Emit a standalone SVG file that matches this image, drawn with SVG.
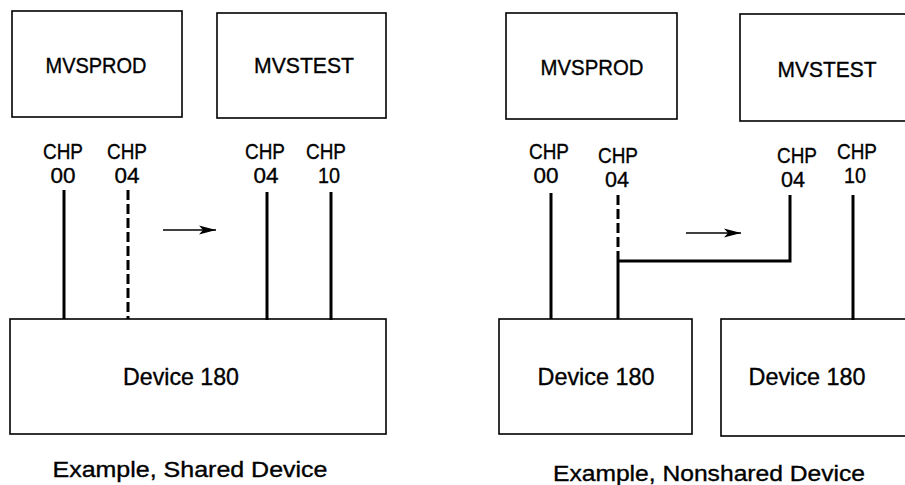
<svg xmlns="http://www.w3.org/2000/svg" width="905" height="485" viewBox="0 0 905 485">
<style>
.box{fill:#fff;stroke:#000;stroke-width:1.6}
.t{font-family:"Liberation Sans",Arial,sans-serif;font-size:22px;fill:#000;stroke:#000;stroke-width:0.35;text-anchor:middle}
.d{font-size:24px}
.ln{stroke:#000;stroke-width:3;fill:none}
.ds{stroke:#000;stroke-width:3;fill:none;stroke-dasharray:10 4}
.ar{stroke:#000;stroke-width:1.6;fill:none}
</style>
<defs>
<marker id="ah" markerWidth="18" markerHeight="12" refX="17" refY="6" orient="auto" markerUnits="userSpaceOnUse">
<path d="M0,1.5 L17,6 L0,10.5 L4,6 Z" fill="#000"/>
</marker>
</defs>
<rect width="905" height="485" fill="#fff"/>

<!-- Left panel -->
<g id="l-mvsprod"><rect class="box" x="12" y="11" width="170" height="106"/><text class="t" x="96" y="73" textLength="101" lengthAdjust="spacingAndGlyphs">MVSPROD</text></g>
<g id="l-mvstest"><rect class="box" x="217" y="13" width="169" height="105"/><text class="t" x="304" y="73" textLength="100" lengthAdjust="spacingAndGlyphs">MVSTEST</text></g>
<g id="l-chp00"><text class="t" x="63" y="159" textLength="40" lengthAdjust="spacingAndGlyphs">CHP</text><text class="t" x="63" y="183" textLength="25" lengthAdjust="spacingAndGlyphs">00</text></g>
<g id="l-chp04a"><text class="t" x="127" y="159" textLength="40" lengthAdjust="spacingAndGlyphs">CHP</text><text class="t" x="127" y="183" textLength="25" lengthAdjust="spacingAndGlyphs">04</text></g>
<g id="l-chp04b"><text class="t" x="265" y="159" textLength="40" lengthAdjust="spacingAndGlyphs">CHP</text><text class="t" x="266" y="183" textLength="25" lengthAdjust="spacingAndGlyphs">04</text></g>
<g id="l-chp10"><text class="t" x="326" y="159" textLength="40" lengthAdjust="spacingAndGlyphs">CHP</text><text class="t" x="329" y="183" textLength="22" lengthAdjust="spacingAndGlyphs">10</text></g>
<g id="l-device"><rect class="box" x="10" y="319" width="376" height="115"/><text class="t d" x="181" y="385" textLength="116" lengthAdjust="spacingAndGlyphs">Device 180</text></g>
<text class="t" x="190" y="477" textLength="275" lengthAdjust="spacingAndGlyphs">Example, Shared Device</text>

<!-- Right panel -->
<g id="r-mvsprod"><rect class="box" x="506" y="13" width="171" height="106"/><text class="t" x="592" y="75" textLength="103" lengthAdjust="spacingAndGlyphs">MVSPROD</text></g>
<g id="r-mvstest"><rect class="box" x="740" y="14" width="175" height="107"/><text class="t" x="827" y="77" textLength="99" lengthAdjust="spacingAndGlyphs">MVSTEST</text></g>
<g id="r-chp00"><text class="t" x="549" y="159" textLength="40" lengthAdjust="spacingAndGlyphs">CHP</text><text class="t" x="546" y="183" textLength="25" lengthAdjust="spacingAndGlyphs">00</text></g>
<g id="r-chp04a"><text class="t" x="618" y="163" textLength="40" lengthAdjust="spacingAndGlyphs">CHP</text><text class="t" x="617" y="187" textLength="24" lengthAdjust="spacingAndGlyphs">04</text></g>
<g id="r-chp04b"><text class="t" x="797" y="163" textLength="40" lengthAdjust="spacingAndGlyphs">CHP</text><text class="t" x="793" y="187" textLength="24" lengthAdjust="spacingAndGlyphs">04</text></g>
<g id="r-chp10"><text class="t" x="857" y="159" textLength="40" lengthAdjust="spacingAndGlyphs">CHP</text><text class="t" x="855" y="183" textLength="22" lengthAdjust="spacingAndGlyphs">10</text></g>
<g id="r-device1"><rect class="box" x="499" y="319" width="193" height="115"/><text class="t d" x="596" y="385" textLength="117" lengthAdjust="spacingAndGlyphs">Device 180</text></g>
<g id="r-device2"><rect class="box" x="721" y="319" width="194" height="117"/><text class="t d" x="807" y="385" textLength="117" lengthAdjust="spacingAndGlyphs">Device 180</text></g>
<text class="t" x="709" y="481" textLength="312" lengthAdjust="spacingAndGlyphs">Example, Nonshared Device</text>

<g id="connectors">
<line class="ln" x1="64" y1="190" x2="64" y2="319"/>
<line class="ds" x1="128" y1="190" x2="128" y2="319"/>
<line class="ln" x1="267" y1="192" x2="267" y2="320"/>
<line class="ln" x1="331" y1="192" x2="331" y2="320"/>
<line class="ar" x1="163" y1="230" x2="216" y2="230" marker-end="url(#ah)"/>

<line class="ln" x1="551" y1="193" x2="551" y2="319"/>
<line class="ds" x1="618" y1="195" x2="618" y2="261"/>
<line class="ln" x1="618" y1="261" x2="618" y2="319"/>
<polyline class="ln" points="618,261 790,261 790,195"/>
<line class="ln" x1="853" y1="195" x2="853" y2="320"/>
<line class="ar" x1="686" y1="233" x2="741" y2="233" marker-end="url(#ah)"/>
</g>
</svg>
